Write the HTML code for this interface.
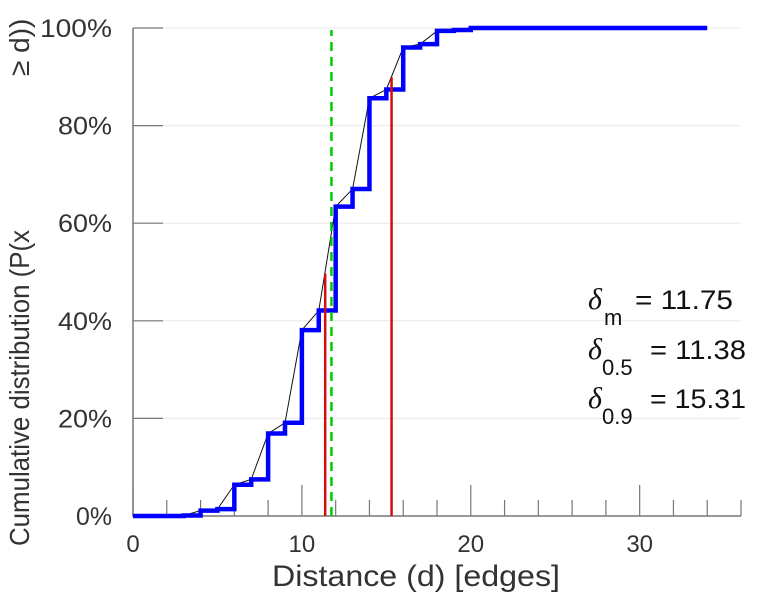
<!DOCTYPE html>
<html><head><meta charset="utf-8"><style>body{margin:0;background:#fff}svg{display:block;font-family:"Liberation Sans",sans-serif}</style></head>
<body>
<svg id="c" width="768" height="600"></svg>
<script>
const dist=[0,1,2,3,4,5,6,7,8,9,10,11,12,13,14,15,16,17,18,19,20,21,22,23,24,25,26,27,28,29,30,31,32,33,34];
const cdf=[0,0,0,0.1,1.1,1.4,6.4,7.5,16.9,19.1,38.1,42.1,63.4,67,85.6,87.4,96,96.7,99.4,99.6,100,100,100,100,100,100,100,100,100,100,100,100,100,100,100];
const yTicks=[0,20,40,60,80,100];
const xTicks=[0,10,20,30];
const median=11.38, p90=15.31, mean=11.75;
const medianY=49.7, p90Y=89.9;
const NS='http://www.w3.org/2000/svg', svg=document.getElementById('c');
const X=v=>133+v*(741-133)/36, Y=v=>516-v*(516-28)/100;
function mk(t,a,p){const e=document.createElementNS(NS,t);for(const k in a)e.setAttribute(k,a[k]);(p||svg).appendChild(e);return e;}
yTicks.forEach(t=>{
 if(t>0){const g=mk('line',{x1:133,x2:741,y1:Y(t),y2:Y(t),stroke:'#e8e8e8','stroke-width':1});
 
 }
 const tk=mk('line',{x1:133,x2:163,y1:Y(t),y2:Y(t),stroke:'#777','stroke-width':1.2});
 
 
 const s=t+'%';
 const l=mk('text',{x:112,y:Y(t)+9,'text-anchor':'end','font-size':25,fill:'#333',textLength:s.length*18,lengthAdjust:'spacingAndGlyphs'});l.textContent=s;
 
 
});
for(let v=0;v<=36;v+=2){const big=v%10===0;const tk=mk('line',{x1:X(v),x2:X(v),y1:516,y2:big?485:500,stroke:'#777','stroke-width':1.2});
 
 }
xTicks.forEach(t=>{const l=mk('text',{x:X(t),y:552,'text-anchor':'middle','font-size':24,fill:'#333'});l.textContent=t;
 
 });
const ax=mk('path',{d:'M133 28V516H741',fill:'none',stroke:'#777','stroke-width':1.5});


const bl=mk('polyline',{points:dist.map((d,i)=>X(d)+','+Y(cdf[i])).join(' '),fill:'none',stroke:'#111','stroke-width':1});


let p='M'+X(dist[0])+' '+Y(cdf[0]);
for(let i=0;i<dist.length;i++){p+=' V'+Y(cdf[i])+' H'+X(i<dist.length-1?dist[i+1]:dist[i]);}
const st=mk('path',{d:p,fill:'none',stroke:'#0000ff','stroke-width':4.5,'stroke-linejoin':'miter'});


const r1=mk('line',{x1:X(median),x2:X(median),y1:516,y2:Y(medianY),stroke:'#d01010','stroke-width':2.5});


const r2=mk('line',{x1:X(p90),x2:X(p90),y1:516,y2:Y(p90Y),stroke:'#d01010','stroke-width':2.5});


const gr=mk('line',{x1:X(mean),x2:X(mean),y1:516,y2:30,stroke:'#00cc00','stroke-width':2.5,'stroke-dasharray':'9,6'});


</script>
<svg width="768" height="600" style="position:absolute;left:0;top:0">
<g font-family="Liberation Sans, sans-serif" fill="#111" font-size="27">
<g>
<text x="588" y="309" font-family="Liberation Serif, serif" font-style="italic" font-size="30">δ</text>
<text x="604" y="325" font-size="22">m</text>
<text x="635" y="309" textLength="98" lengthAdjust="spacingAndGlyphs">= 11.75</text></g>
<g>
<text x="588" y="359" font-family="Liberation Serif, serif" font-style="italic" font-size="30">δ</text>
<text x="602" y="375" font-size="22">0.5</text>
<text x="650" y="359" textLength="96" lengthAdjust="spacingAndGlyphs">= 11.38</text></g>
<g>
<text x="588" y="408" font-family="Liberation Serif, serif" font-style="italic" font-size="30">δ</text>
<text x="602" y="424" font-size="22">0.9</text>
<text x="650" y="408" textLength="96" lengthAdjust="spacingAndGlyphs">= 15.31</text></g>
<text x="416" y="586" text-anchor="middle" fill="#333" font-size="30" textLength="288" lengthAdjust="spacingAndGlyphs">Distance (d) [edges]</text>
<text transform="translate(29,546) rotate(-90)" fill="#333" font-size="28" textLength="316" lengthAdjust="spacingAndGlyphs">Cumulative distribution (P(x</text>
<text transform="translate(29,76) rotate(-90)" fill="#333" font-size="28">≥ d))</text>
</g></svg>
</body></html>
